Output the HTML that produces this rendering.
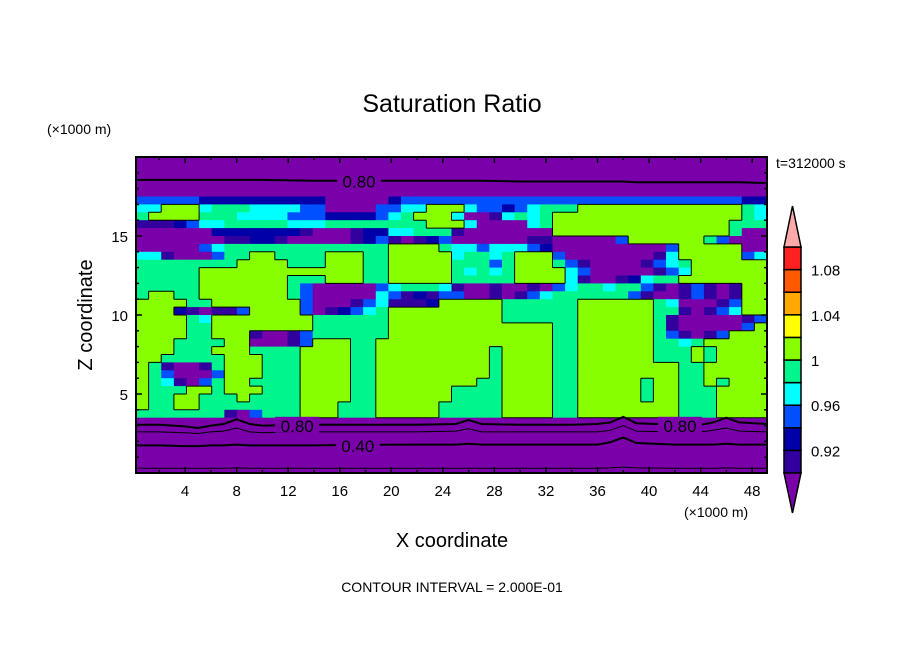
<!DOCTYPE html>
<html><head><meta charset="utf-8"><style>
html,body{margin:0;padding:0;background:#fff;}
svg{display:block;font-family:"Liberation Sans","DejaVu Sans",sans-serif;}
</style></head><body>
<svg id="chart" width="904" height="654" viewBox="0 0 904 654" xmlns="http://www.w3.org/2000/svg">
<rect x="0" y="0" width="904" height="654" fill="#fff"/>
<text x="452" y="112" text-anchor="middle" font-size="25">Saturation Ratio</text>
<text x="47" y="134" font-size="14">(×1000 m)</text>
<text x="776" y="168" font-size="14">t=312000 s</text>
<text x="684" y="517" font-size="14">(×1000 m)</text>
<text x="452" y="547" text-anchor="middle" font-size="20">X coordinate</text>
<text transform="translate(92,315) rotate(-90)" text-anchor="middle" font-size="20">Z coordinate</text>
<text x="452" y="592" text-anchor="middle" font-size="14">CONTOUR INTERVAL = 2.000E-01</text>
<g id="field"></g>
<g id="outlines"></g>
<g id="contours"></g>
<g id="axes"></g>
<g id="cbar"></g>
</svg>
<script>
// ---- data ----
const xDomain = [0.19, 49.15];
const zDomain = [0, 20];
const levelBounds = [0.90, 0.92, 0.94, 0.96, 0.98, 1.00, 1.02, 1.04, 1.06, 1.08, 1.10];
const levelColors = ["#7a00aa","#3300a0","#0000a8","#0050ff","#00ffff","#00f58c","#88ff00","#ffff00","#ffa800","#ff5a00","#ff2020","#ffaaaa"];
const charValues = {p:0.85,i:0.91,d:0.93,b:0.95,c:0.97,g:0.99,l:1.01,y:1.03};
const P10 = "pppppppppp";
const fieldRows = [
[P10,P10,P10,P10,P10],
[P10,P10,P10,P10,P10],
[P10,P10,P10,P10,P10],
[P10,P10,P10,P10,P10],
[P10,P10,P10,P10,P10],
["bbbbbddddd","dddddppppp","dbbbbbbbbb","bbbbbbbbbb","bbbbbbbbdd"],
["cclllcgggc","cccbbppppb","bcclllcbbd","bcggglllll","llllllllgc"],
["gllllgggcc","ccbbbddddb","cglllcppic","gcglllllll","llllllllgc"],
["iiidbccggg","ggcccggggg","ggglllcppp","pcglllllll","lllllllggg"],
["ppppppdddd","dddipppidd","ccgggipppp","ppplllllll","lllllllgpp"],
["pppppppiid","dipppppidb","ipidbppppp","piipppppbl","lllllgbppp"],
["pppppbcggg","gggggggggg","llllgccbcc","cbdppppppp","ppblllllpp"],
["ccipppbggl","lgggglllgg","lllllcggcg","lllbpppppp","piclllllbc"],
["ggggggggll","llggglllgg","lllllgggbg","lllgbipppp","ibcgllllll"],
["ggggglllll","llllllllgg","lllllgcgcg","llllcbpppp","pibcllllll"],
["ggggglllll","llggglllgg","lllllggggg","llllcippid","cgglllllll"],
["ggggglllll","llgbpppppb","cgggcippip","pipbcggcgg","bipibipill"],
["gllgglllll","llgbpppppc","bidibbppip","ibcggggggb","ippibipill"],
["llllggllll","lllbpppibc","iiidlllllg","ggggglllll","lgcpppibll"],
["llldipiibl","lllbpidbcg","lllllllllg","ggggglllll","lggipibcll"],
["llllgcllll","llllgggggg","lllllllllg","ggggglllll","lgipppppib"],
["llllggllll","llllgggggg","llllllllll","lllgglllll","lgipppppbl"],
["llllggllli","ppibgggggg","llllllllll","lllgglllll","lgbipiblll"],
["lllggggllp","ppiblllggl","llllllllll","lllgglllll","lggcglllll"],
["lllggglllg","gggllllggl","llllllllgl","lllgglllll","lggglgllll"],
["llggggglll","gggllllggl","llllllllgl","lllgglllll","lggglgllll"],
["lgippiglll","gggllllggl","llllllllgl","lllgglllll","lllgglllll"],
["lgbpppblll","gggllllggl","llllllllgl","lllgglllll","lllgglllll"],
["lgcipbgllg","gggllllggl","lllllllggl","lllgglllll","gllgglglll"],
["lgggllglll","gggllllggl","lllllggggl","lllgglllll","gllgggllll"],
["lggllggglg","gggllllggl","lllllggggl","lllgglllll","gllgggllll"],
["lggllggggg","ggglllgggl","llllgggggl","lllgglllll","lllgggllll"],
["gggggggipb","ggglllgggl","llllgggggl","lllgglllll","lllgggllll"],
[P10,P10,P10,P10,P10],
[P10,P10,P10,P10,P10],
[P10,P10,P10,P10,P10],
[P10,P10,P10,P10,P10],
[P10,P10,P10,P10,P10],
[P10,P10,P10,P10,P10],
[P10,P10,P10,P10,P10]
];
const contourX = [0,2,4,5,6,7,8,9,10,14,18,22,25,26,27,30,34,36,37,38,39,42,44,45,46,47,50];
const contourTop08 = [18.55,18.55,18.55,18.55,18.55,18.55,18.55,18.55,18.55,18.5,18.5,18.5,18.5,18.5,18.5,18.45,18.45,18.45,18.45,18.45,18.4,18.4,18.4,18.4,18.4,18.4,18.35];
const contourBot08 = [3.05,3.05,2.95,2.85,3.0,3.1,3.4,3.1,3.0,3.05,3.05,3.05,3.1,3.35,3.1,3.05,3.05,3.1,3.2,3.55,3.15,3.05,3.05,3.2,3.5,3.2,3.1];
const contourBot06 = [2.6,2.6,2.55,2.5,2.6,2.65,2.85,2.6,2.55,2.6,2.6,2.6,2.65,2.8,2.6,2.6,2.6,2.6,2.7,3.0,2.65,2.6,2.6,2.7,2.85,2.65,2.6];
const contourBot04 = [1.75,1.75,1.7,1.7,1.75,1.75,1.8,1.75,1.75,1.75,1.78,1.8,1.8,1.85,1.8,1.8,1.8,1.8,1.95,2.25,1.9,1.8,1.8,1.8,1.85,1.8,1.8];
const contourBot02 = [0.3,0.3,0.3,0.3,0.3,0.3,0.32,0.3,0.3,0.3,0.3,0.3,0.3,0.3,0.3,0.3,0.3,0.3,0.32,0.38,0.32,0.3,0.3,0.3,0.32,0.3,0.3];
const xTicks = [4,8,12,16,20,24,28,32,36,40,44,48];
const zTicks = [5,10,15];
const cbarLabels = ["1.08","1.04","1","0.96","0.92"];
const cbarLabelValues = [1.08,1.04,1.00,0.96,0.92];

// ---- scales ----
const PL=136, PR=767, PT=157, PB=473;
function xs(v){ return PL + (v - xDomain[0]) / (xDomain[1]-xDomain[0]) * (PR-PL); }
function zs(v){ return PB - (v - zDomain[0]) / (zDomain[1]-zDomain[0]) * (PB-PT); }
function colorFor(v){
  if (v < levelBounds[0]) return levelColors[0];
  for (let k=0;k<levelBounds.length-1;k++){ if (v < levelBounds[k+1]) return levelColors[k+1]; }
  return levelColors[levelColors.length-1];
}
const NS="http://www.w3.org/2000/svg";
function mk(tag, attrs, parent){ const e=document.createElementNS(NS,tag); for(const k in attrs) e.setAttribute(k,attrs[k]); parent.appendChild(e); return e; }

// ---- heatmap ----
const field=document.getElementById('field');
const nCols=50, nRows=fieldRows.length;
const dx=(xDomain[1]-xDomain[0])/nCols, dz=(zDomain[1]-zDomain[0])/nRows;
const grid=[];
for(let r=0;r<nRows;r++){
  let row=fieldRows[r].join('');
  while(row.length<nCols) row+=row[row.length-1];
  const vals=[];
  for(let c=0;c<nCols;c++) vals.push(charValues[row[c]]);
  grid.push(vals);
}
function cellBox(r,c){
  const x0=xs(xDomain[0]+c*dx), x1=xs(xDomain[0]+(c+1)*dx);
  const y0=zs(zDomain[1]-r*dz), y1=zs(zDomain[1]-(r+1)*dz);
  return [x0,y0,x1,y1];
}
for(let r=0;r<nRows;r++){
  for(let c=0;c<nCols;c++){
    const [x0,y0,x1,y1]=cellBox(r,c);
    const cell=mk('rect',{x:x0.toFixed(2),y:y0.toFixed(2),width:(x1-x0+0.6).toFixed(2),height:(y1-y0+0.6).toFixed(2),fill:colorFor(grid[r][c])},field);
    
    
  }
}
// outlines of the 1.00 contour (edges between >=1 and <1 cells)
const og=document.getElementById('outlines');
let od='';
for(let r=0;r<nRows;r++){
  for(let c=0;c<nCols;c++){
    const a=grid[r][c]>=1.0;
    const [x0,y0,x1,y1]=cellBox(r,c);
    if(c+1<nCols && a!==(grid[r][c+1]>=1.0)) od+=`M${x1.toFixed(1)},${y0.toFixed(1)}V${y1.toFixed(1)}`;
    if(r+1<nRows && a!==(grid[r+1][c]>=1.0)) od+=`M${x0.toFixed(1)},${y1.toFixed(1)}H${x1.toFixed(1)}`;
  }
}
const op=mk('path',{d:od,fill:'none',stroke:'#000','stroke-width':1},og);



// ---- contours ----
const cg=document.getElementById('contours');
function drawContour(zArr, width, name){
  let d='';
  for(let k=0;k<contourX.length;k++){ d+=(k?'L':'M')+xs(Math.min(Math.max(contourX[k],xDomain[0]),xDomain[1])).toFixed(1)+','+zs(zArr[k]).toFixed(1); }
  const p=mk('path',{d:d,fill:'none',stroke:'#000','stroke-width':width},cg);
  
  
}
drawContour(contourTop08,2,'contour-0.80-top');
drawContour(contourBot08,2,'contour-0.80-bottom');
drawContour(contourBot06,1,'contour-0.60');
drawContour(contourBot04,2,'contour-0.40');
drawContour(contourBot02,1,'contour-0.20');
function contourLabel(txt, xv, zv, name){
  const cx=xs(xv), cy=zs(zv);
  const bg=mk('rect',{x:cx-22,y:cy-8,width:44,height:16,fill:levelColors[0]},cg);
  
  
  const t=mk('text',{x:cx,y:cy+7,'text-anchor':'middle','font-size':'17',fill:'#000'},cg);
  t.textContent=txt;
  
  
}
contourLabel('0.80',17.5,18.5,'contour-label-top');
contourLabel('0.80',12.7,3.05,'contour-label-bottom-left');
contourLabel('0.80',42.4,3.05,'contour-label-bottom-right');
contourLabel('0.40',17.4,1.78,'contour-label-040');

// ---- axes ----
const ax=document.getElementById('axes');
const frame=mk('rect',{x:PL,y:PT,width:PR-PL,height:PB-PT,fill:'none',stroke:'#000','stroke-width':2},ax);


for(let v=2; v<=48; v+=2){
  const major = xTicks.indexOf(v)>=0;
  const L = major?6:3;
  const x=xs(v);
  const t1=mk('line',{x1:x,y1:PB,x2:x,y2:PB-L,stroke:'#000','stroke-width':1.5},ax);
  
  
  const t2=mk('line',{x1:x,y1:PT,x2:x,y2:PT+L,stroke:'#000','stroke-width':1.5},ax);
  
  
}
xTicks.forEach(v=>{
  const t=mk('text',{x:xs(v),y:PB+23,'text-anchor':'middle','font-size':'15'},ax);
  t.textContent=String(v);
  
  
});
for(let v=1; v<=19; v++){
  const major = zTicks.indexOf(v)>=0;
  const L = major?6:3;
  const y=zs(v);
  const t1=mk('line',{x1:PL,y1:y,x2:PL+L,y2:y,stroke:'#000','stroke-width':1.5},ax);
  
  
  const t2=mk('line',{x1:PR,y1:y,x2:PR-L,y2:y,stroke:'#000','stroke-width':1.5},ax);
  
  
}
zTicks.forEach(v=>{
  const t=mk('text',{x:PL-8,y:zs(v)+6,'text-anchor':'end','font-size':'15'},ax);
  t.textContent=String(v);
  
  
});

// ---- colorbar ----
const cb=document.getElementById('cbar');
const CBX=784, CBW=17, CBT=247, CBB=473;
const nBoxes=levelBounds.length-1;
function cbY(v){ return CBB - (v-levelBounds[0])/(levelBounds[nBoxes]-levelBounds[0])*(CBB-CBT); }
for(let k=0;k<nBoxes;k++){
  const y0=cbY(levelBounds[k+1]), y1=cbY(levelBounds[k]);
  const b=mk('rect',{x:CBX,y:y0,width:CBW,height:y1-y0,fill:levelColors[k+1],stroke:'#000','stroke-width':1.5},cb);
  
  
}
const triTop=mk('polygon',{points:`${CBX},${CBT} ${CBX+CBW},${CBT} ${CBX+CBW/2},206`,fill:levelColors[levelColors.length-1],stroke:'#000','stroke-width':1.5},cb);


const triBot=mk('polygon',{points:`${CBX},${CBB} ${CBX+CBW},${CBB} ${CBX+CBW/2},513`,fill:levelColors[0],stroke:'#000','stroke-width':1.5},cb);


cbarLabels.forEach((s,k)=>{
  const t=mk('text',{x:811,y:cbY(cbarLabelValues[k])+6,'font-size':'15'},cb);
  t.textContent=s;
  
  
});
</script>
</body></html>
